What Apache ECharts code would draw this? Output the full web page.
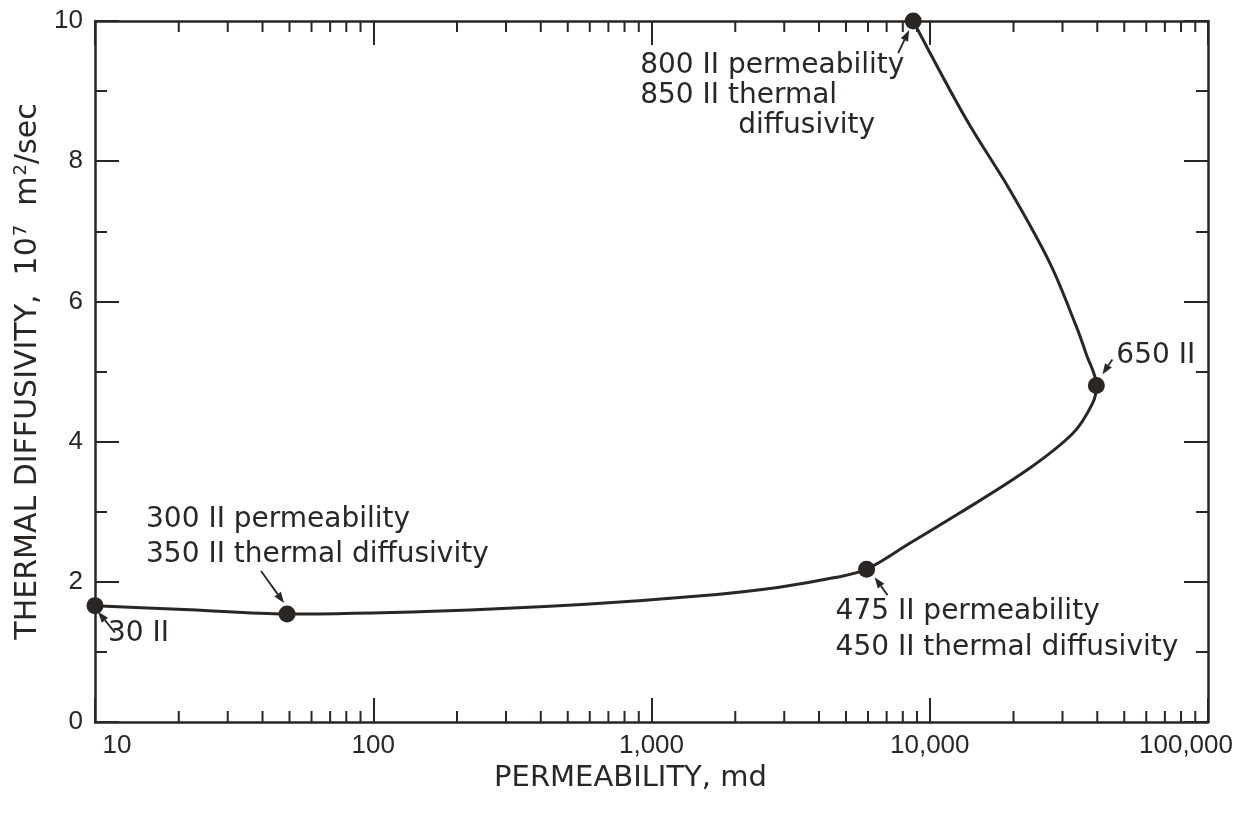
<!DOCTYPE html>
<html>
<head>
<meta charset="utf-8">
<title>Thermal diffusivity vs permeability</title>
<script src="https://cdn.jsdelivr.net/npm/echarts@6/dist/echarts.min.js"></script>
<style>
  html, body { margin: 0; padding: 0; background: #ffffff; }
  #chart { width: 1256px; height: 816px; }
</style>
</head>
<body>
<div id="chart"></div>
<script>
// Measured samples (permeability in md, thermal diffusivity in 10^-7 m^2/sec)
const samplePerm = [10, 49, 5930, 39700, 8720];
const sampleDiff = [1.66, 1.54, 2.18, 4.8, 10.0];

// Annotation text for each sample
const sampleNotes = [
  ['30 II'],
  ['300 II permeability', '350 II thermal diffusivity'],
  ['475 II permeability', '450 II thermal diffusivity'],
  ['650 II'],
  ['800 II permeability', '850 II thermal', 'diffusivity']
];

// Hand-traced smooth trend through the samples, in drawing order
const curvePerm = [10, 22, 49, 164, 582, 1510, 2840, 4560, 5930, 8470, 12800, 22280, 32700, 38500, 39700, 36500, 33650, 27000, 19400, 13560, 8720];
const curveDiff = [1.66, 1.6, 1.54, 1.58, 1.68, 1.8, 1.92, 2.06, 2.18, 2.55, 2.98, 3.59, 4.12, 4.55, 4.8, 5.25, 5.64, 6.55, 7.59, 8.59, 10.0];

// Axis ticks
const permMajorTicks = [10, 100, 1000, 10000, 100000];
const permTickLabels = ['10', '100', '1,000', '10,000', '100,000'];
const permMinorTicks = [20, 30, 40, 50, 60, 70, 80, 90,
  200, 300, 400, 500, 600, 700, 800, 900,
  2000, 3000, 4000, 5000, 6000, 7000, 8000, 9000,
  20000, 30000, 40000, 50000, 60000, 70000, 80000, 90000];
const diffTickValues = [0, 2, 4, 6, 8, 10];

const ink = '#2a2623';
const labelFont = '"DejaVu Sans", "Liberation Sans", sans-serif';
const tickFont = '"Liberation Sans", "DejaVu Sans", sans-serif';

// Pixel placement of each note relative to its sample dot
const noteLayout = [
  { dx: 13, dy: [28], indent: [0], tail: [20, 27], head: [3, 6] },
  { dx: -141, dy: [-94, -59], indent: [0, 0], tail: [-26, -43], head: [-3, -11] },
  { dx: -31, dy: [43, 79], indent: [0, 0], tail: [21, 26], head: [8, 8] },
  { dx: 20, dy: [-30], indent: [0], tail: [16, -26], head: [6, -11] },
  { dx: -273, dy: [45, 75, 105], indent: [0, 0, 98], tail: [-15, 32], head: [-4, 9] }
];

const chart = echarts.init(document.getElementById('chart'), null, { renderer: 'canvas' });

function permLabel(v) {
  const i = permMajorTicks.findIndex(t => Math.abs(Math.log10(t) - Math.log10(v)) < 1e-6);
  if (i < 0) return '';
  if (i === 0) return '{first|' + permTickLabels[i] + '}';
  if (i === permMajorTicks.length - 1) return '{last|' + permTickLabels[i] + '}';
  return permTickLabels[i];
}

const tickText = { fontFamily: tickFont, fontSize: 26, color: ink };

const xBase = {
  type: 'log',
  logBase: 10,
  min: 10,
  max: 100000,
  splitLine: { show: false },
  minorSplitLine: { show: false },
  axisLine: { show: true, onZero: false, lineStyle: { color: ink, width: 2.5 } },
  axisTick: { show: true, inside: true, length: 24, lineStyle: { color: ink, width: 2 } }
};

const yBase = {
  type: 'value',
  min: 0,
  max: 10,
  interval: 2,
  splitLine: { show: false },
  minorSplitLine: { show: false },
  axisLine: { show: true, onZero: false, lineStyle: { color: ink, width: 2.5 } },
  axisTick: { show: true, inside: true, length: 24, lineStyle: { color: ink, width: 2 } },
  minorTick: { show: true, splitNumber: 2, length: 12, lineStyle: { color: ink, width: 2 } }
};

const option = {
  backgroundColor: '#ffffff',
  animation: false,
  grid: { left: 95, right: 48, top: 21, bottom: 94 },
  xAxis: [
    Object.assign({}, xBase, {
      position: 'bottom',
      axisLabel: Object.assign({}, tickText, {
        margin: 11,
        formatter: permLabel,
        rich: {
          first: Object.assign({}, tickText, { padding: [0, 0, 0, 44] }),
          last: Object.assign({}, tickText, { padding: [0, 44, 0, 0] })
        }
      }),
      name: 'PERMEABILITY, md',
      nameLocation: 'middle',
      nameGap: 42,
      nameTextStyle: { fontFamily: labelFont, fontSize: 29, color: ink, padding: [0, 42, 0, 0] }
    }),
    Object.assign({}, xBase, {
      position: 'top',
      axisLabel: { show: false }
    })
  ],
  yAxis: [
    Object.assign({}, yBase, {
      position: 'left',
      axisLabel: Object.assign({}, tickText, {
        margin: 12,
        formatter: v => (diffTickValues.includes(v) ? String(v) : '')
      }),
      name: 'THERMAL DIFFUSIVITY,  10{sup|7}  m{sup|2}/sec',
      nameLocation: 'middle',
      nameRotate: 90,
      nameGap: 50,
      nameTextStyle: {
        fontFamily: labelFont, fontSize: 30, color: ink,
        rich: {
          sup: { fontFamily: labelFont, fontSize: 18, color: ink, verticalAlign: 'top', padding: [0, 0, 14, 1] }
        }
      }
    }),
    Object.assign({}, yBase, {
      position: 'right',
      axisLabel: { show: false }
    })
  ],
  series: [
    {
      // log-decade minor ticks on bottom and top edges
      type: 'custom',
      silent: true,
      clip: false,
      xAxisIndex: 0,
      yAxisIndex: 0,
      data: permMinorTicks.map(v => [v, 0]),
      renderItem: function (params, api) {
        const v = api.value(0);
        const b = api.coord([v, 0]);
        const t = api.coord([v, 10]);
        const len = 11;
        return {
          type: 'group',
          children: [
            { type: 'line', shape: { x1: b[0], y1: b[1], x2: b[0], y2: b[1] - len }, style: { stroke: ink, lineWidth: 2 } },
            { type: 'line', shape: { x1: t[0], y1: t[1], x2: t[0], y2: t[1] + len }, style: { stroke: ink, lineWidth: 2 } }
          ]
        };
      }
    },
    {
      type: 'line',
      silent: true,
      xAxisIndex: 0,
      yAxisIndex: 0,
      data: curvePerm.map((p, i) => [p, curveDiff[i]]),
      smooth: 0.35,
      showSymbol: false,
      symbol: 'none',
      lineStyle: { color: ink, width: 3 },
      z: 3
    },
    {
      type: 'scatter',
      silent: true,
      xAxisIndex: 0,
      yAxisIndex: 0,
      data: samplePerm.map((p, i) => [p, sampleDiff[i]]),
      symbol: 'circle',
      symbolSize: 17,
      itemStyle: { color: ink, opacity: 1 },
      z: 4
    },
    {
      // notes with pointer arrows
      type: 'custom',
      silent: true,
      clip: false,
      xAxisIndex: 0,
      yAxisIndex: 0,
      data: samplePerm.map((p, i) => [p, sampleDiff[i]]),
      z: 5,
      renderItem: function (params, api) {
        const i = params.dataIndex;
        const c = api.coord([api.value(0), api.value(1)]);
        const L = noteLayout[i];
        const children = [];
        sampleNotes[i].forEach((line, k) => {
          children.push({
            type: 'text',
            style: {
              text: line,
              x: c[0] + L.dx + L.indent[k],
              y: c[1] + L.dy[k],
              fill: ink,
              font: '28px ' + labelFont,
              textAlign: 'left',
              textVerticalAlign: 'middle'
            }
          });
        });
        const tx = c[0] + L.tail[0], ty = c[1] + L.tail[1];
        const hx = c[0] + L.head[0], hy = c[1] + L.head[1];
        const ang = Math.atan2(hy - ty, hx - tx);
        const al = 11, aw = 4;
        const bx = hx - al * Math.cos(ang), by = hy - al * Math.sin(ang);
        children.push({ type: 'line', shape: { x1: tx, y1: ty, x2: bx, y2: by }, style: { stroke: ink, lineWidth: 1.8 } });
        children.push({
          type: 'polygon',
          shape: {
            points: [
              [hx, hy],
              [bx + aw * Math.sin(ang), by - aw * Math.cos(ang)],
              [bx - aw * Math.sin(ang), by + aw * Math.cos(ang)]
            ]
          },
          style: { fill: ink }
        });
        return { type: 'group', children: children };
      }
    }
  ]
};

chart.setOption(option);
</script>
</body>
</html>
